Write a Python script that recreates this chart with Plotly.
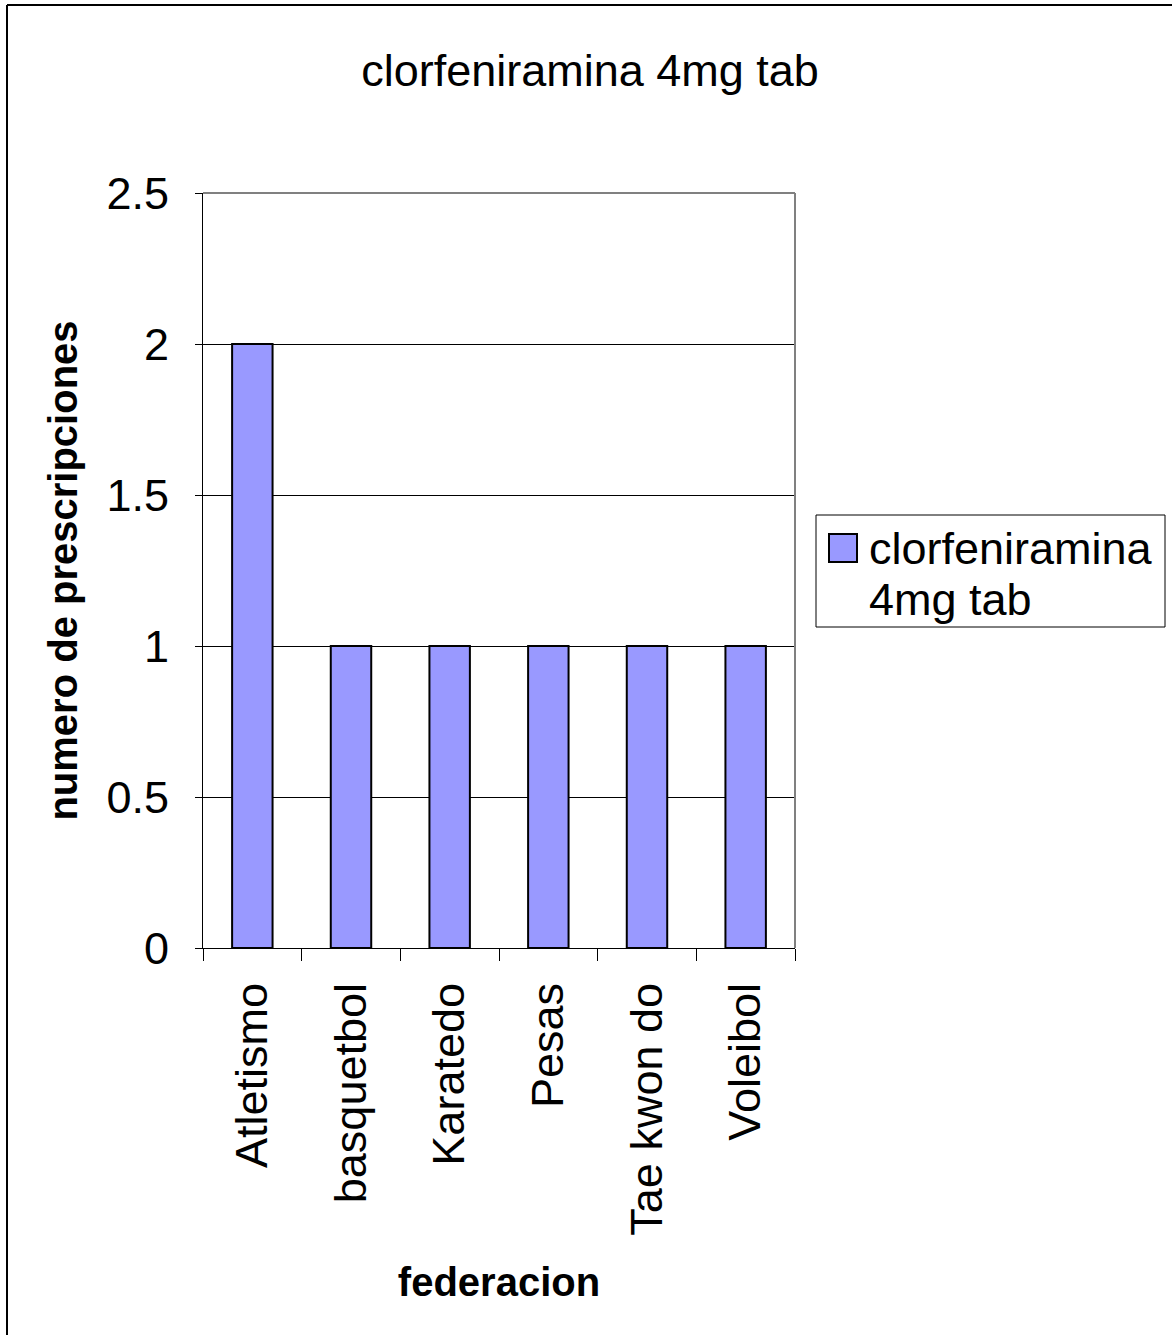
import plotly.graph_objects as go

# Prescription counts per sports federation
federaciones = ["Atletismo", "basquetbol", "Karatedo", "Pesas", "Tae kwon do", "Voleibol"]
prescripciones = [2, 1, 1, 1, 1, 1]
serie = "clorfeniramina 4mg tab"
serie_lineas = ["clorfeniramina", "4mg tab"]
y_ticks = [0, 0.5, 1, 1.5, 2, 2.5]
y_tick_labels = ["0", "0.5", "1", "1.5", "2", "2.5"]

FONT = "Liberation Sans, Arial, sans-serif"
BAR_COLOR = "#9999FF"
W, H = 1172, 1335
L, R, T, B = 203, 795, 193, 948


def px(xp):
    """pixel x -> paper x"""
    return (xp - L) / (R - L)


def py(yp):
    """pixel y -> paper y"""
    return (B - yp) / (B - T)


fig = go.Figure()
fig.add_trace(go.Bar(
    x=federaciones,
    y=prescripciones,
    name=serie,
    showlegend=False,
    marker=dict(color=BAR_COLOR, line=dict(color="black", width=2)),
))

# legend box drawn by hand so the swatch can be full size
legend_shapes = [
    dict(type="rect", xref="paper", yref="paper",
         x0=px(816), x1=px(1165), y0=py(627), y1=py(515),
         line=dict(color="black", width=1), fillcolor="white"),
    dict(type="rect", xref="paper", yref="paper",
         x0=px(829), x1=px(857), y0=py(562), y1=py(534),
         line=dict(color="black", width=2), fillcolor=BAR_COLOR),
]
legend_annotations = [
    dict(text=txt, xref="paper", yref="paper", x=px(867), y=py(yc),
         xanchor="left", yanchor="middle", showarrow=False,
         font=dict(size=45, family=FONT, color="black"))
    for txt, yc in zip(serie_lineas, [548, 599])
]

fig.update_layout(
    width=W, height=H,
    margin=dict(l=L, r=W - R, t=T, b=H - B, autoexpand=False),
    paper_bgcolor="white", plot_bgcolor="white",
    font=dict(family=FONT, color="black"),
    bargap=0.59,
    showlegend=False,
    title=dict(text=serie, x=590 / W, xanchor="center",
               y=1 - 70 / H, yanchor="middle", yref="container",
               font=dict(size=45, family=FONT)),
    xaxis=dict(
        type="category",
        tickangle=-90,
        tickfont=dict(size=45, family=FONT),
        ticks="outside", ticklen=12, tickcolor="black", tickwidth=1,
        tickson="boundaries",
        ticklabelstandoff=16,
        showline=True, linecolor="black", linewidth=1,
        showgrid=False,
        title=dict(text="<b>federacion</b>", font=dict(size=40, family=FONT), standoff=33),
    ),
    yaxis=dict(
        range=[0, 2.5],
        tickvals=y_ticks, ticktext=y_tick_labels,
        tickfont=dict(size=45, family=FONT),
        ticks="outside", ticklen=7, tickcolor="black", tickwidth=1,
        ticklabelstandoff=17,
        showline=True, linecolor="black", linewidth=1,
        showgrid=True, gridcolor="black", gridwidth=1,
        zeroline=False,
        title=dict(text="<b>numero de prescripciones</b>", font=dict(size=40, family=FONT), standoff=16),
    ),
    annotations=legend_annotations,
    shapes=[
        # gray frame along top and right of the plot area
        dict(type="line", xref="paper", yref="paper", x0=0, x1=1, y0=1, y1=1,
             line=dict(color="#808080", width=2)),
        dict(type="line", xref="paper", yref="paper", x0=1, x1=1, y0=0, y1=1,
             line=dict(color="#808080", width=2)),
        # chart frame along top and left edges
        dict(type="line", xref="paper", yref="paper",
             x0=px(7), x1=px(W + 5), y0=py(5), y1=py(5),
             line=dict(color="black", width=2)),
        dict(type="line", xref="paper", yref="paper",
             x0=px(7), x1=px(7), y0=py(5), y1=py(H + 5),
             line=dict(color="black", width=2)),
    ] + legend_shapes,
)

fig.write_html("out.html")
